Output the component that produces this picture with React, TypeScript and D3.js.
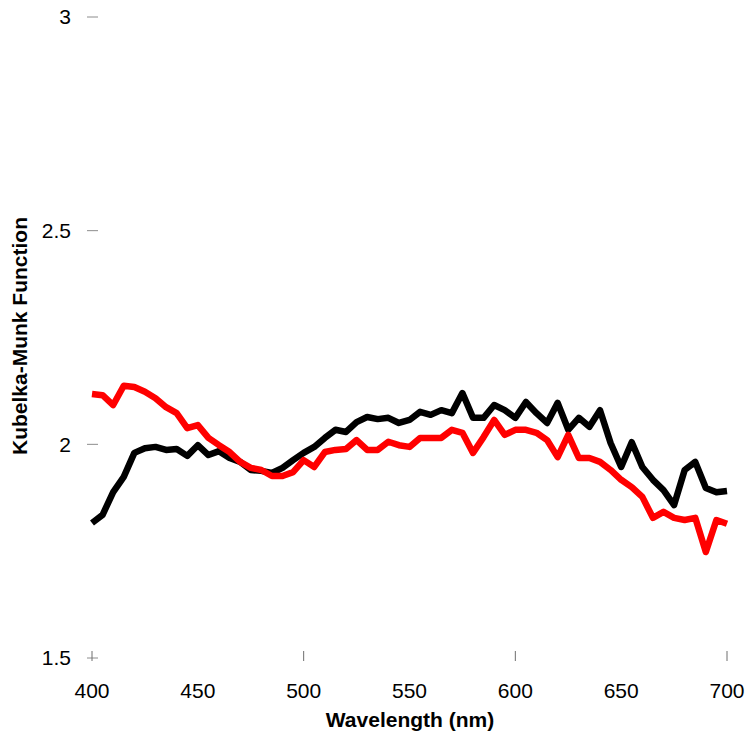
import React from 'react';
import * as d3 from 'd3';

// wavelengths in nm (5 nm steps)
const wavelengths = [
  400, 405, 410, 415, 420, 425, 430, 435, 440, 445,
  450, 455, 460, 465, 470, 475, 480, 485, 490, 495,
  500, 505, 510, 515, 520, 525, 530, 535, 540, 545,
  550, 555, 560, 565, 570, 575, 580, 585, 590, 595,
  600, 605, 610, 615, 620, 625, 630, 635, 640, 645,
  650, 655, 660, 665, 670, 675, 680, 685, 690, 695,
  700,
];

const blackSeries = [
  1.816, 1.835, 1.888, 1.924, 1.980, 1.991, 1.994, 1.987, 1.989, 1.973,
  1.998, 1.975, 1.984, 1.968, 1.959, 1.940, 1.938, 1.933, 1.945, 1.963,
  1.980, 1.994, 2.015, 2.034, 2.029, 2.052, 2.064, 2.059, 2.062, 2.050,
  2.057, 2.076, 2.069, 2.080, 2.073, 2.120, 2.062, 2.062, 2.092, 2.080,
  2.062, 2.099, 2.073, 2.050, 2.097, 2.034, 2.062, 2.041, 2.080, 2.003,
  1.947, 2.005, 1.947, 1.917, 1.893, 1.858, 1.940, 1.959, 1.898, 1.888,
  1.891,
];

const redSeries = [
  2.118, 2.115, 2.092, 2.137, 2.134, 2.123, 2.108, 2.087, 2.073, 2.038,
  2.045, 2.015, 1.998, 1.982, 1.959, 1.945, 1.940, 1.926, 1.926, 1.935,
  1.963, 1.947, 1.982, 1.987, 1.989, 2.010, 1.987, 1.987, 2.006, 1.998,
  1.994, 2.015, 2.015, 2.015, 2.034, 2.027, 1.980, 2.017, 2.057, 2.022,
  2.034, 2.034, 2.027, 2.010, 1.970, 2.022, 1.968, 1.968, 1.959, 1.940,
  1.917, 1.900, 1.877, 1.828, 1.842, 1.828, 1.823, 1.828, 1.748, 1.823,
  1.814,
];

const yTicks = [1.5, 2, 2.5, 3];
const xTickMarks = [400, 500, 600, 700];
const xTickLabels = [400, 450, 500, 550, 600, 650, 700];

const W = 750;
const H = 740;
const FONT = 'Arial, "Liberation Sans", sans-serif';

export default function App() {
  const x = d3.scaleLinear().domain([400, 700]).range([92, 727]);
  const y = d3.scaleLinear().domain([1.5, 3]).range([658, 17]);

  const line = d3
    .line<number>()
    .x((_, i) => x(wavelengths[i]))
    .y((d) => y(d));

  return (
    <svg
      width={W}
      height={H}
      style={{ position: 'absolute', left: 0, top: 0, background: '#fff' }}
      fontFamily={FONT}
    >
      {/* y axis ticks + labels */}
      {yTicks.map((t) => (
        <g key={'y' + t}>
          <line x1={87} x2={98} y1={y(t)} y2={y(t)} stroke="#8c8c8c" strokeWidth={1} />
          <text x={71} y={y(t)} dy="0.35em" textAnchor="end" fontSize={21} fill="#000">
            {t}
          </text>
        </g>
      ))}

      {/* x axis ticks */}
      {xTickMarks.map((t) => (
        <line key={'xm' + t} x1={x(t)} x2={x(t)} y1={651} y2={661} stroke="#6e6e6e" strokeWidth={1} />
      ))}
      {xTickLabels.map((t) => (
        <text key={'xl' + t} x={x(t)} y={691} dy="0.35em" textAnchor="middle" fontSize={21} fill="#000">
          {t}
        </text>
      ))}

      {/* series */}
      <path d={line(blackSeries) || ''} fill="none" stroke="#000" strokeWidth={6.5} strokeLinejoin="round" />
      <path d={line(redSeries) || ''} fill="none" stroke="#ff0000" strokeWidth={6.5} strokeLinejoin="round" />

      {/* axis titles */}
      <text x={410} y={720} dy="0.35em" textAnchor="middle" fontSize={21} fontWeight="bold" fill="#000">
        Wavelength (nm)
      </text>
      <text
        transform={`translate(20,336) rotate(-90)`}
        dy="0.35em"
        textAnchor="middle"
        fontSize={21}
        fontWeight="bold"
        fill="#000"
      >
        Kubelka-Munk Function
      </text>
    </svg>
  );
}
